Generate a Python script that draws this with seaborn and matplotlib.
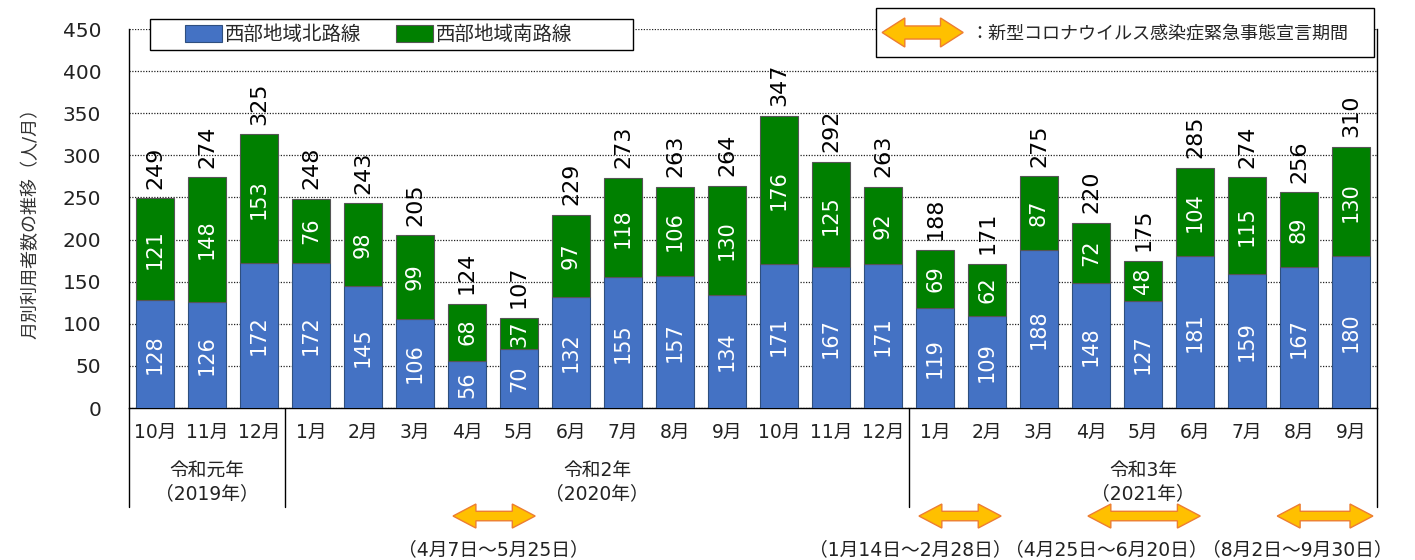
import numpy as np
import pandas as pd
import matplotlib
matplotlib.use("Agg")
import matplotlib.pyplot as plt
from matplotlib.patches import Polygon, Rectangle, Patch
from matplotlib.legend_handler import HandlerPatch
import seaborn as sns

# ---- data -------------------------------------------------------------
months = ["10月", "11月", "12月",
          "1月", "2月", "3月", "4月", "5月", "6月", "7月", "8月", "9月", "10月", "11月", "12月",
          "1月", "2月", "3月", "4月", "5月", "6月", "7月", "8月", "9月"]
north = [128, 126, 172, 172, 145, 106, 56, 70, 132, 155, 157, 134, 171, 167, 171,
         119, 109, 188, 148, 127, 181, 159, 167, 180]
south = [121, 148, 153, 76, 98, 99, 68, 37, 97, 118, 106, 130, 176, 125, 92,
         69, 62, 87, 72, 48, 104, 115, 89, 130]
totals = [249, 274, 325, 248, 243, 205, 124, 107, 229, 273, 263, 264, 347, 292, 263,
          188, 171, 275, 220, 175, 285, 274, 256, 310]
series_names = ["西部地域北路線", "西部地域南路線"]

year_labels = ["令和元年\n（2019年）", "令和2年\n（2020年）", "令和3年\n（2021年）"]
months_per_year = [3, 12, 9]

# state-of-emergency periods, in month-slot units along the x axis
period_start = [5.73, 14.69, 17.94, 21.58]
period_end = [7.31, 16.27, 20.10, 23.42]
period_labels = ["（4月7日～5月25日）", "（1月14日～2月28日）",
                 "（4月25日～6月20日）", "（8月2日～9月30日）"]
period_label_x = [6.51, 14.52, 18.29, 21.96]
legend_note = "：新型コロナウイルス感染症緊急事態宣言期間"
ylabel = "月別利用者数の推移（人/月）"

# ---- style -------------------------------------------------------------
BLUE = "#4472C4"
GREEN = "#008000"
ARROW_FACE = "#FFC000"
ARROW_EDGE = "#ED7D31"

sns.set_theme(style="white")
plt.rcParams["font.family"] = ["DejaVu Sans", "Noto Sans CJK JP"]

fig = plt.figure(figsize=(14.15, 5.6), dpi=100)
ax = fig.add_axes([0.0912, 0.2714, 0.882, 0.6768])

df = pd.DataFrame({"pos": np.arange(len(months)), "north": north,
                   "south": south, "total": totals})

bar_w = 0.72
sns.barplot(data=df, x="pos", y="north", color=BLUE, saturation=1,
            width=bar_w, edgecolor="#2F4F7F", linewidth=0.8,
            errorbar=None, ax=ax, zorder=3)
sns.barplot(data=df, x="pos", y="south", bottom=df["north"].to_numpy(),
            color=GREEN, saturation=1, width=bar_w, edgecolor="#555555",
            linewidth=0.8, errorbar=None, ax=ax, zorder=3)

ax.set_xlim(-0.5, len(months) - 0.5)
ax.set_ylim(0, 450)
ax.set_yticks(np.arange(0, 451, 50))
ax.tick_params(axis="y", length=0, pad=20, labelsize=14.5, labelcolor="#222222")
ax.set_xticks(np.arange(len(months)))
ax.set_xticklabels(months)
ax.tick_params(axis="x", length=0, pad=11, labelsize=13.5, labelcolor="#222222")
ax.set_xlabel("")
ax.set_ylabel(ylabel, fontsize=13, color="#333333")
ax.yaxis.set_label_coords(-0.072, 0.5)

ax.set_axisbelow(True)
ax.yaxis.grid(True, linestyle=(0, (1, 1.2)), color="#222222", linewidth=0.9)
ax.xaxis.grid(False)
ax.spines["top"].set_visible(False)
for side in ("left", "right", "bottom"):
    ax.spines[side].set_color("black")
    ax.spines[side].set_linewidth(1.0)

# ---- value labels ------------------------------------------------------
for i, (n, s, t) in enumerate(zip(north, south, totals)):
    ax.text(i, n / 2, str(n), rotation=90, ha="center", va="center",
            color="white", fontsize=15, zorder=5)
    ax.text(i, n + s / 2, str(s), rotation=90, ha="center", va="center",
            color="white", fontsize=15, zorder=5)
    ax.annotate(str(t), (i, t), xytext=(0, 7), textcoords="offset points",
                rotation=90, ha="center", va="bottom", color="black",
                fontsize=16, zorder=5)

# ---- year groups below the axis ---------------------------------------
xt = ax.get_xaxis_transform()
edges = np.concatenate([[0], np.cumsum(months_per_year)]) - 0.5
for x in edges:
    ax.plot([x, x], [0, -0.261], transform=xt, color="black", lw=1.0,
            clip_on=False, zorder=4)
for lab, a, b in zip(year_labels, edges[:-1], edges[1:]):
    ax.text((a + b) / 2, -0.195, lab, transform=xt, ha="center", va="center",
            fontsize=13.5, color="#222222", linespacing=1.3)


def double_arrow(x0, x1, yc, head_len, head_half, shaft_half):
    return [(x0, yc), (x0 + head_len, yc + head_half),
            (x0 + head_len, yc + shaft_half), (x1 - head_len, yc + shaft_half),
            (x1 - head_len, yc + head_half), (x1, yc),
            (x1 - head_len, yc - head_half), (x1 - head_len, yc - shaft_half),
            (x0 + head_len, yc - shaft_half), (x0 + head_len, yc - head_half)]


for a, b, lab, lx in zip(period_start, period_end, period_labels, period_label_x):
    poly = Polygon(double_arrow(a, b, -0.285, 0.44, 0.0317, 0.0125),
                   closed=True, transform=xt, facecolor=ARROW_FACE,
                   edgecolor=ARROW_EDGE, linewidth=1.0, clip_on=False, zorder=4)
    ax.add_patch(poly)
    ax.text(lx, -0.375, lab, transform=xt, ha="center", va="center",
            fontsize=13.5, color="#222222")

# ---- legends -------------------------------------------------------------
ax.add_patch(Rectangle((0.01683, 0.9446), 0.3870, 0.0818, transform=ax.transAxes,
                       facecolor="white", edgecolor="black", linewidth=1.0,
                       clip_on=False, zorder=6))
handles = [Patch(facecolor=BLUE, edgecolor="#2F4F7F", linewidth=0.8),
           Patch(facecolor=GREEN, edgecolor="#555555", linewidth=0.8)]
leg1 = ax.legend(handles, series_names, loc="center left",
                 bbox_to_anchor=(0.0449, 0.9855), ncol=2, frameon=False,
                 fontsize=14, borderpad=0, borderaxespad=0,
                 handlelength=1.9, handleheight=0.93, handletextpad=0.15,
                 columnspacing=1.8)
leg1.set_zorder(7)
ax.add_artist(leg1)

ax.add_patch(Rectangle((0.5986, 0.9261), 0.3990, 0.1293, transform=ax.transAxes,
                       facecolor="white", edgecolor="black", linewidth=1.0,
                       clip_on=False, zorder=6))


def arrow_handle(legend, orig_handle, xdescent, ydescent, width, height, fontsize):
    x0 = -xdescent
    yc = -ydescent + height / 2
    return Polygon(double_arrow(x0, x0 + width, yc, width * 0.28,
                                height / 2, height * 0.225), closed=True)


arrow_proxy = Polygon([(0, 0), (1, 0), (1, 1)], facecolor=ARROW_FACE,
                      edgecolor=ARROW_EDGE, linewidth=1.0)
leg2 = ax.legend([arrow_proxy], [legend_note], loc="center left",
                 bbox_to_anchor=(0.6034, 0.9908), frameon=False, fontsize=13,
                 borderpad=0, borderaxespad=0, handlelength=4.49,
                 handleheight=2.1, handletextpad=0.4,
                 handler_map={Polygon: HandlerPatch(patch_func=arrow_handle)})
leg2.set_zorder(7)

fig.savefig("out.png", dpi=100)
